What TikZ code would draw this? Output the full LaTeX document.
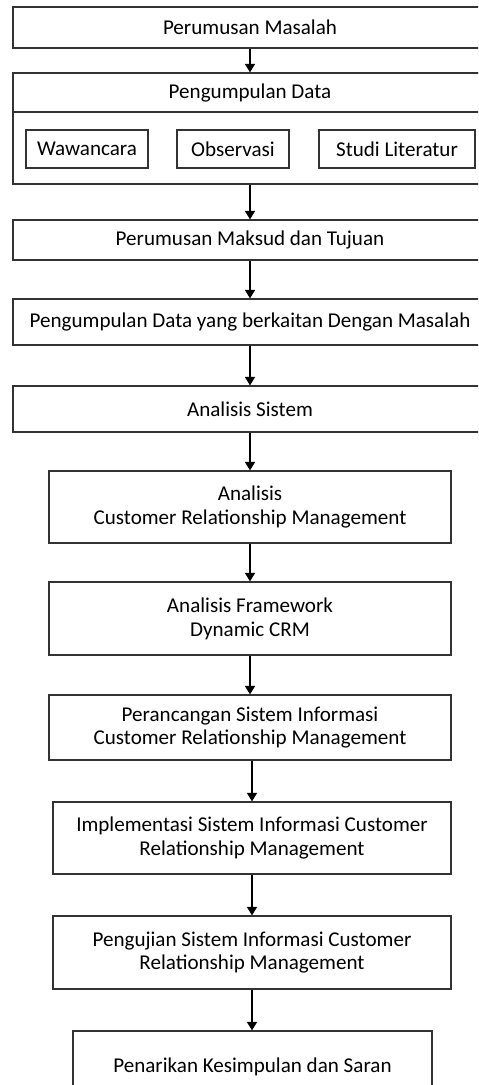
\documentclass[tikz,border=0pt]{standalone}
\usepackage{fontspec}
\setmainfont{Carlito}
\usetikzlibrary{arrows.meta, positioning}

\begin{document}
\begin{tikzpicture}[x=0.02cm, y=-0.02cm,
    box/.style={draw=black!80, line width=0.7pt, align=center, inner sep=0pt,
        font=\fontsize{12}{13.6}\selectfont},
    arr/.style={-{Triangle[width=0.2cm, length=0.17cm]}, line width=0.9pt}]
    \useasboundingbox (0,0) rectangle (478,1085);
    \clip (0,0) rectangle (478,1085);

    % Top part, full width
    \node[box, minimum width=9.48cm, minimum height=0.82cm] (mas) at (250,27.5) {Perumusan Masalah};

    % Data collection with its three methods
    \node[box, minimum width=9.48cm, minimum height=2.22cm] (datas) at (250,128.5) {};
    \node[box, minimum width=9.48cm, minimum height=0.78cm] (judul) at (250,92.5) {Pengumpulan Data};
    \node[box, minimum width=2.44cm, minimum height=0.76cm] (wawan) at (87,149) {Wawancara};
    \node[box, minimum width=2.24cm, minimum height=0.76cm] (obs) at (233,149) {Observasi};
    \node[box, minimum width=3.12cm, minimum height=0.76cm] (studi) at (397,149) {Studi Literatur};

    \node[box, minimum width=9.48cm, minimum height=0.80cm] (maksud) at (250,240) {Perumusan Maksud dan Tujuan};
    \node[box, minimum width=9.48cm, minimum height=0.92cm] (kumpul) at (250,322) {Pengumpulan Data yang berkaitan Dengan Masalah};
    \node[box, minimum width=9.48cm, minimum height=0.92cm] (anasis) at (250,409) {Analisis Sistem};

    % Narrower steps below
    \node[box, minimum width=8.04cm, minimum height=1.44cm] (crm) at (250,507) {Analisis\\Customer Relationship Management};
    \node[box, minimum width=8.04cm, minimum height=1.46cm] (frame) at (250,618.5) {Analisis Framework\\Dynamic CRM};
    \node[box, minimum width=8.04cm, minimum height=1.30cm] (rancang) at (250,727.5) {Perancangan Sistem Informasi\\Customer Relationship Management};
    \node[box, minimum width=7.96cm, minimum height=1.44cm] (impl) at (252,838) {Implementasi Sistem Informasi Customer\\Relationship Management};
    \node[box, minimum width=7.96cm, minimum height=1.46cm] (uji) at (252,952.5) {Pengujian Sistem Informasi Customer\\Relationship Management};
    \node[box, minimum width=7.18cm, minimum height=1.44cm] (simpul) at (252.5,1067) {Penarikan Kesimpulan dan Saran};

    % Arrows
    \draw[arr] (mas.south) -- (judul.north);
    \draw[arr] (datas.south) -- (maksud.north);
    \draw[arr] (maksud.south) -- (kumpul.north);
    \draw[arr] (kumpul.south) -- (anasis.north);
    \draw[arr] (anasis.south) -- (crm.north);
    \draw[arr] (crm.south) -- (frame.north);
    \draw[arr] (frame.south) -- (rancang.north);
    \draw[arr] (impl.north |- rancang.south) -- (impl.north);
    \draw[arr] (impl.south) -- (uji.north);
    \draw[arr] (uji.south) -- (uji.south |- simpul.north);
\end{tikzpicture}
\end{document}
